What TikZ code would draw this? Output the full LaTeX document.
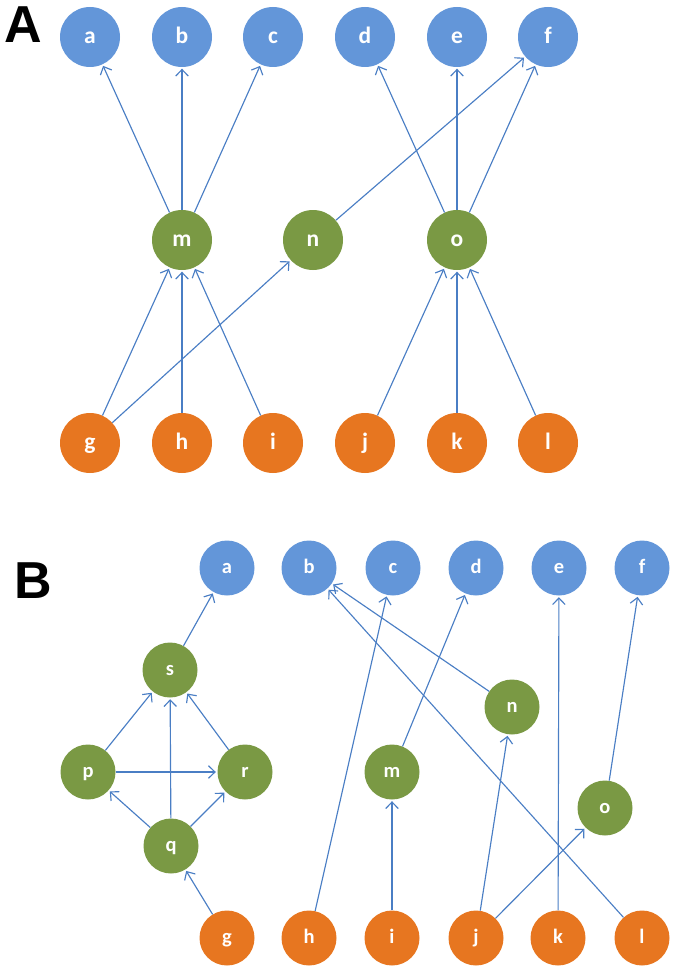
\documentclass[tikz,border=0pt]{standalone}
\usepackage{fontspec}
\newfontfamily\nodefont{Carlito}
\newfontfamily\panelfont{Liberation Sans}
\usetikzlibrary{arrows.meta}
\definecolor{cblue}{RGB}{99,150,217}
\definecolor{cgreen}{RGB}{122,153,68}
\definecolor{corange}{RGB}{231,118,32}
\definecolor{cline}{RGB}{74,126,196}
\newcommand\tA[1]{\scalebox{2.35}{\nodefont\bfseries\fontsize{10pt}{10pt}\selectfont\vphantom{bg}#1}}
\newcommand\tB[1]{\scalebox{2.05}{\nodefont\bfseries\fontsize{10pt}{10pt}\selectfont\vphantom{bg}#1}}
\tikzset{
  nd/.style={circle,inner sep=0pt,text=white},
  ndA/.style={nd,minimum size=60pt},
  ndB/.style={nd,minimum size=55pt},
  bl/.style={fill=cblue},
  gr/.style={fill=cgreen},
  orr/.style={fill=corange},
  arr/.style={draw=cline,line width=1.15pt,-{Straight Barb[length=6.5pt,width=12.5pt,line width=1.15pt]},shorten >=1.5pt},
  panel/.style={font=\panelfont\bfseries\fontsize{52pt}{52pt}\selectfont,inner sep=0pt}
}
\begin{document}
\begin{tikzpicture}[x=1pt,y=-1pt]
\useasboundingbox (0,0) rectangle (675,971);
% Panel A
\node[panel] (LA) at (23,25) {A};
\node[ndA,bl] (Aa) at (90,37) {\tA{a}};
\node[ndA,bl] (Ab) at (182,37) {\tA{b}};
\node[ndA,bl] (Ac) at (273,37) {\tA{c}};
\node[ndA,bl] (Ad) at (365,37) {\tA{d}};
\node[ndA,bl] (Ae) at (457,37) {\tA{e}};
\node[ndA,bl] (Af) at (548,37) {\tA{f}};
\node[ndA,gr] (Am) at (182,240) {\tA{m}};
\node[ndA,gr] (An) at (313,240) {\tA{n}};
\node[ndA,gr] (Ao) at (457,240) {\tA{o}};
\node[ndA,orr] (Ag) at (90,443) {\tA{g}};
\node[ndA,orr] (Ah) at (182,443) {\tA{h}};
\node[ndA,orr] (Ai) at (273,443) {\tA{i}};
\node[ndA,orr] (Aj) at (365,443) {\tA{j}};
\node[ndA,orr] (Ak) at (457,443) {\tA{k}};
\node[ndA,orr] (Al) at (548,443) {\tA{l}};
\draw[arr] (Am) -- (Aa);
\draw[arr] (Am) -- (Ab);
\draw[arr] (Am) -- (Ac);
\draw[arr] (An) -- (Af);
\draw[arr] (Ao) -- (Ad);
\draw[arr] (Ao) -- (Ae);
\draw[arr] (Ao) -- (Af);
\draw[arr] (Ag) -- (Am);
\draw[arr] (Ag) -- (An);
\draw[arr] (Ah) -- (Am);
\draw[arr] (Ai) -- (Am);
\draw[arr] (Aj) -- (Ao);
\draw[arr] (Ak) -- (Ao);
\draw[arr] (Al) -- (Ao);
% Panel B
\node[panel] (LB) at (33,581) {B};
\node[ndB,bl] (Ba) at (227,568) {\tB{a}};
\node[ndB,bl] (Bb) at (309,568) {\tB{b}};
\node[ndB,bl] (Bc) at (393,568) {\tB{c}};
\node[ndB,bl] (Bd) at (476,568) {\tB{d}};
\node[ndB,bl] (Be) at (559,568) {\tB{e}};
\node[ndB,bl] (Bf) at (642,568) {\tB{f}};
\node[ndB,gr] (Bs) at (170,670) {\tB{s}};
\node[ndB,gr] (Bp) at (88,772) {\tB{p}};
\node[ndB,gr] (Br) at (245,772) {\tB{r}};
\node[ndB,gr] (Bq) at (171,846) {\tB{q}};
\node[ndB,gr] (Bm) at (392,772) {\tB{m}};
\node[ndB,gr] (Bn) at (512,707) {\tB{n}};
\node[ndB,gr] (Bo) at (605,808) {\tB{o}};
\node[ndB,orr] (Bg) at (227,938) {\tB{g}};
\node[ndB,orr] (Bh) at (309,938) {\tB{h}};
\node[ndB,orr] (Bi) at (392,938) {\tB{i}};
\node[ndB,orr] (Bj) at (476,938) {\tB{j}};
\node[ndB,orr] (Bk) at (558,938) {\tB{k}};
\node[ndB,orr] (Bl) at (642,938) {\tB{l}};
\draw[arr] (Bs) -- (Ba);
\draw[arr] (Bp) -- (Bs);
\draw[arr] (Bq) -- (Bs);
\draw[arr] (Br) -- (Bs);
\draw[arr] (Bp) -- (Br);
\draw[arr] (Bq) -- (Bp);
\draw[arr] (Bq) -- (Br);
\draw[arr] (Bg) -- (Bq);
\draw[arr] (Bh) -- (Bc);
\draw[arr] (Bi) -- (Bm);
\draw[arr] (Bm) -- (Bd);
\draw[arr] (Bj) -- (Bn);
\draw[arr] (Bn) -- (Bb);
\draw[arr] (Bl) -- (Bb);
\draw[arr] (Bk) -- (Be);
\draw[arr] (Bj) -- (Bo);
\draw[arr] (Bo) -- (Bf);
\end{tikzpicture}
\end{document}
